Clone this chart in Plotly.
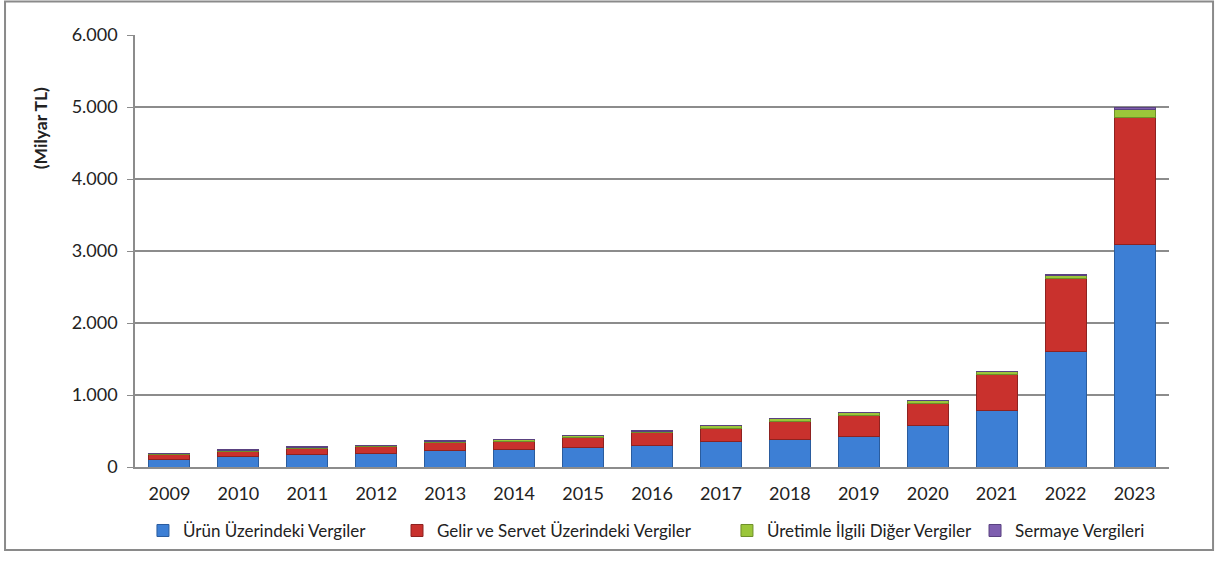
import plotly.graph_objects as go

years = ["2009", "2010", "2011", "2012", "2013", "2014", "2015", "2016",
         "2017", "2018", "2019", "2020", "2021", "2022", "2023"]
urun = [105, 145, 170, 185, 225, 240, 270, 300, 360, 385, 430, 575, 780, 1600, 3085]
gelir = [65, 70, 85, 95, 110, 120, 140, 175, 180, 245, 285, 310, 500, 1020, 1770]
uretim = [15, 20, 20, 22, 25, 25, 25, 25, 35, 38, 38, 40, 40, 45, 115]
sermaye = [2, 2, 3, 3, 3, 3, 3, 4, 4, 4, 4, 5, 6, 6, 20]
y_ticks = [0, 1000, 2000, 3000, 4000, 5000, 6000]

names = ["Ürün Üzerindeki Vergiler", "Gelir ve Servet Üzerindeki Vergiler",
         "Üretimle İlgili Diğer Vergiler", "Sermaye Vergileri"]
colors = ["#3D7FD5", "#C9312D", "#9BC63A", "#7F5FB0"]
edges = ["#2A5C9E", "#8E2220", "#6E8F2A", "#5A4180"]
legend_ids = ["legend", "legend2", "legend3", "legend4"]
legend_x = [0.0077, 0.2534, 0.5725, 0.8124]

FONT = "Lato"
fig = go.Figure()
for vals, name, col, edge, lid in zip([urun, gelir, uretim, sermaye], names, colors, edges, legend_ids):
    fig.add_trace(go.Bar(x=years, y=vals, name=name, legend=lid,
                         marker=dict(color=col, line=dict(color=edge, width=1))))

legend_common = dict(orientation="h", y=-0.148, xanchor="left", yanchor="middle",
                     font=dict(family=FONT, size=17, color="#222222"),
                     bgcolor="rgba(0,0,0,0)", borderwidth=0)
legends = {lid: dict(x=lx, **legend_common) for lid, lx in zip(legend_ids, legend_x)}

fig.update_layout(
    barmode="stack",
    bargap=0.405,
    width=1215, height=563,
    margin=dict(l=135, r=46, t=35, b=96),
    paper_bgcolor="white", plot_bgcolor="white",
    separators=",.",
    font=dict(family=FONT, size=18, color="#222222"),
    showlegend=True,
    xaxis=dict(type="category", showgrid=False, showline=True, linecolor="#8C8C8C",
               linewidth=1.5, ticks="", ticklabelstandoff=10,
               tickfont=dict(family=FONT, size=18)),
    yaxis=dict(range=[0, 6000], tickvals=y_ticks, tickformat=",d",
               showgrid=True, gridcolor="#8C8C8C", gridwidth=1.5,
               showline=True, linecolor="#8C8C8C", linewidth=1.5,
               ticks="outside", ticklen=6, tickcolor="#8C8C8C",
               ticklabelstandoff=6, zeroline=False,
               tickfont=dict(family=FONT, size=18)),
    annotations=[dict(text="<b>(Milyar TL)</b>", xref="paper", yref="paper",
                      x=-0.0919, y=0.784, textangle=-90, showarrow=False,
                      xanchor="center", yanchor="middle",
                      font=dict(family=FONT, size=17.5, color="#222222"))],
    shapes=[dict(type="rect", xref="paper", yref="paper",
                 x0=-0.1257, x1=1.0426, y0=-0.1919, y1=1.0775,
                 line=dict(color="#8A8A8A", width=2), fillcolor="rgba(0,0,0,0)",
                 layer="below")],
    **legends,
)

fig.write_html("out.html", config={"displayModeBar": False},
               post_script="document.body.style.margin='0';document.body.style.padding='0';")
